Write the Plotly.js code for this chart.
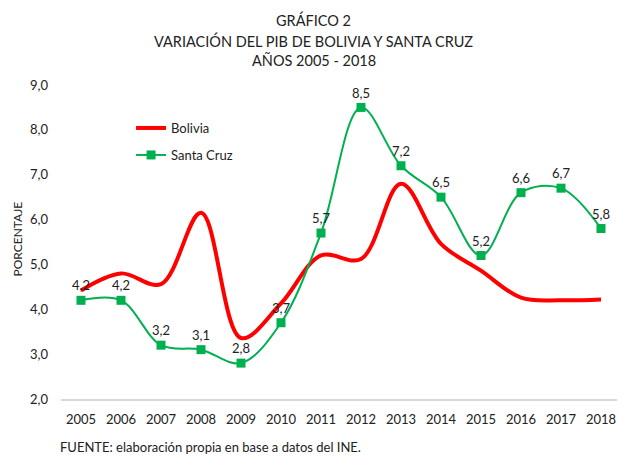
<!DOCTYPE html>
<html>
<head>
<meta charset="utf-8">
<script src="https://cdn.plot.ly/plotly-3.0.1.min.js"></script>
<style>html,body{margin:0;padding:0;background:#fff;}#chart{width:618px;height:456px;}</style>
</head>
<body>
<div id="chart"></div>
<script>
const years = ['2005','2006','2007','2008','2009','2010','2011','2012','2013','2014','2015','2016','2017','2018'];
const bolivia = [4.42, 4.80, 4.56, 6.15, 3.36, 4.13, 5.20, 5.12, 6.80, 5.46, 4.86, 4.26, 4.20, 4.22];
const santaCruz = [4.2, 4.2, 3.2, 3.1, 2.8, 3.7, 5.7, 8.5, 7.2, 6.5, 5.2, 6.6, 6.7, 5.8];
const yTicks = [2, 3, 4, 5, 6, 7, 8, 9];

const FONT = 'Lato, "Open Sans", sans-serif';

const traces = [
  {
    x: years, y: bolivia, name: 'Bolivia', type: 'scatter', mode: 'lines',
    line: {color: '#FF0000', width: 4, shape: 'spline', smoothing: 1},
    legend: 'legend',
    hoverinfo: 'skip'
  },
  {
    x: years, y: santaCruz, name: 'Santa Cruz', type: 'scatter', mode: 'lines+markers+text',
    line: {color: '#00B050', width: 2, shape: 'spline', smoothing: 1},
    marker: {symbol: 'square', size: 9, color: '#00B050'},
    texttemplate: '%{y:.1f}', textposition: 'top center',
    textfont: {family: FONT, size: 13, color: '#222'},
    legend: 'legend2',
    hoverinfo: 'skip'
  }
];

const legendBase = {xanchor: 'left', yanchor: 'middle', bgcolor: 'rgba(0,0,0,0)',
  font: {family: FONT, size: 13, color: '#222'}, itemwidth: 30, borderwidth: 0};

const layout = {
  width: 618, height: 456,
  margin: {l: 61, r: 1, t: 85, b: 57},
  paper_bgcolor: '#fff', plot_bgcolor: '#fff',
  separators: ',.',
  font: {family: FONT, size: 13, color: '#222'},
  showlegend: true,
  legend: Object.assign({}, legendBase, {x: 0.126, y: (399 - 128) / 314}),
  legend2: Object.assign({}, legendBase, {x: 0.126, y: (399 - 155) / 314}),
  xaxis: {
    type: 'category', range: [-0.5, 13.4], showgrid: false, zeroline: false,
    showline: true, linecolor: '#D9D9D9', linewidth: 1.5,
    ticks: '', ticklabelstandoff: 8, tickfont: {family: FONT, size: 13, color: '#222'}
  },
  yaxis: {
    range: [2, 9], tickvals: yTicks, tickformat: '.1f', showgrid: false, zeroline: false,
    showline: false, ticks: '', ticklabelstandoff: 12,
    tickfont: {family: FONT, size: 13, color: '#222'}
  },
  annotations: [
    {text: 'GRÁFICO 2', xref: 'paper', yref: 'paper', x: 0.455, y: (399 - 20) / 314,
     xanchor: 'center', yanchor: 'middle', showarrow: false, font: {family: FONT, size: 14.5, color: '#222'}},
    {text: 'VARIACIÓN DEL PIB DE BOLIVIA Y SANTA CRUZ', xref: 'paper', yref: 'paper', x: 0.455, y: (399 - 41) / 314,
     xanchor: 'center', yanchor: 'middle', showarrow: false, font: {family: FONT, size: 14.5, color: '#222'}},
    {text: 'AÑOS 2005 - 2018', xref: 'paper', yref: 'paper', x: 0.455, y: (399 - 60.5) / 314,
     xanchor: 'center', yanchor: 'middle', showarrow: false, font: {family: FONT, size: 14.5, color: '#222'}},
    {text: 'PORCENTAJE', xref: 'paper', yref: 'paper', x: -0.078, y: 0.51, textangle: -90,
     xanchor: 'center', yanchor: 'middle', showarrow: false,
     font: {family: FONT, size: 12, color: '#222'}},
    {text: 'FUENTE: elaboración propia en base a datos del INE.', xref: 'paper', yref: 'paper',
     x: -0.005, y: (399 - 437) / 314, xanchor: 'left', yanchor: 'top', showarrow: false,
     font: {family: FONT, size: 13, color: '#222'}}
  ]
};

Plotly.newPlot('chart', traces, layout, {displayModeBar: false, staticPlot: true});
</script>
</body>
</html>
